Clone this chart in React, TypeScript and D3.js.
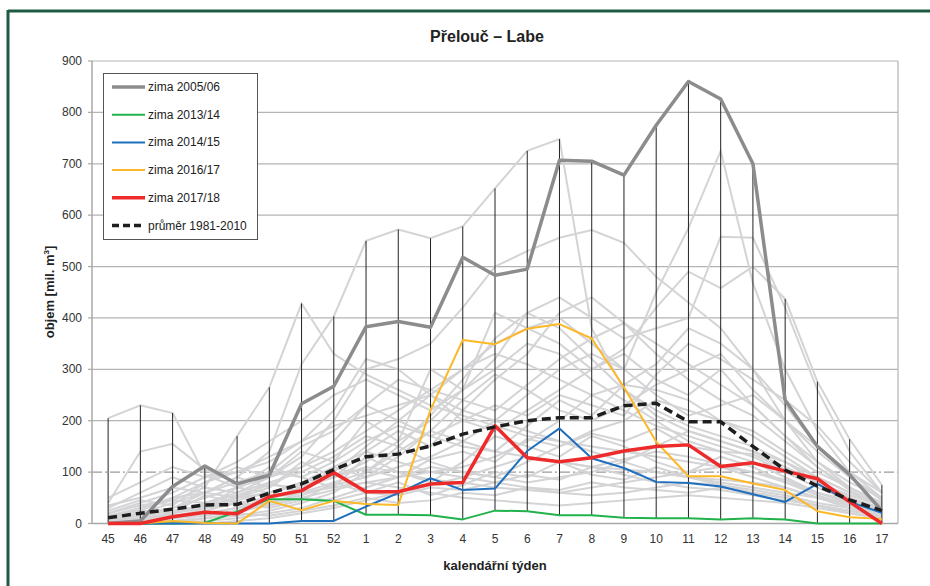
import React from 'react';
import * as d3 from 'd3';

const weeks = ['45','46','47','48','49','50','51','52','1','2','3','4','5','6','7','8','9','10','11','12','13','14','15','16','17'];
const yTicks = [0, 100, 200, 300, 400, 500, 600, 700, 800, 900];

// other winters (light grey background lines)
const grey01 = [205, 230, 215, 95, 70, 60, 75, 90, 110, 100, 85, 80, 70, 65, 60, 55, 60, 70, 80, 75, 60, 50, 35, 25, 15];
const grey02 = [40, 140, 155, 105, 80, 100, 150, 180, 230, 200, 170, 150, 140, 130, 120, 110, 105, 100, 90, 85, 80, 70, 50, 35, 20];
const grey03 = [15, 30, 45, 70, 170, 265, 428, 330, 290, 260, 230, 210, 190, 170, 160, 150, 140, 130, 120, 110, 100, 80, 60, 45, 30];
const grey04 = [5, 20, 40, 60, 90, 140, 310, 403, 550, 572, 555, 578, 652, 725, 748, 380, 260, 210, 180, 160, 140, 120, 90, 60, 40];
const grey05 = [0, 10, 20, 40, 60, 90, 130, 200, 300, 320, 350, 420, 500, 530, 556, 571, 546, 480, 430, 380, 300, 200, 120, 80, 50];
const grey06 = [0, 5, 10, 30, 50, 60, 80, 100, 150, 200, 250, 300, 350, 380, 400, 350, 300, 450, 575, 725, 468, 300, 180, 100, 50];
const grey07 = [10, 25, 50, 80, 100, 120, 160, 220, 320, 300, 250, 200, 180, 220, 260, 300, 340, 420, 490, 458, 500, 437, 276, 164, 75];
const grey08 = [0, 0, 10, 20, 30, 50, 70, 90, 120, 160, 200, 260, 320, 410, 440, 400, 360, 380, 400, 558, 556, 420, 260, 140, 60];
const grey09 = [20, 40, 60, 90, 120, 160, 200, 250, 280, 250, 220, 260, 300, 350, 330, 280, 240, 200, 160, 140, 120, 90, 60, 40, 25];
const grey10 = [0, 0, 5, 10, 20, 40, 60, 80, 100, 140, 180, 240, 290, 260, 220, 200, 230, 270, 300, 330, 260, 200, 150, 100, 60];
const grey11 = [30, 60, 90, 70, 60, 80, 100, 130, 170, 150, 120, 100, 90, 120, 150, 180, 200, 240, 220, 200, 180, 140, 100, 70, 40];
const grey12 = [0, 10, 20, 30, 40, 50, 60, 70, 80, 90, 100, 110, 130, 160, 200, 250, 270, 260, 240, 200, 170, 130, 90, 60, 35];
const grey13 = [5, 15, 25, 35, 45, 60, 80, 110, 140, 120, 100, 90, 80, 70, 60, 70, 80, 90, 100, 110, 90, 70, 50, 30, 20];
const grey14 = [0, 0, 0, 5, 10, 20, 30, 50, 70, 90, 110, 100, 90, 80, 90, 100, 120, 150, 180, 160, 140, 110, 80, 50, 30];
const grey15 = [10, 20, 30, 50, 70, 90, 110, 140, 180, 220, 260, 300, 330, 310, 280, 250, 220, 190, 170, 150, 130, 100, 70, 45, 25];
const grey16 = [0, 5, 10, 15, 25, 35, 50, 65, 80, 70, 60, 50, 45, 40, 35, 40, 45, 50, 55, 50, 45, 40, 30, 20, 10];
const grey17 = [50, 80, 110, 90, 100, 130, 160, 190, 210, 230, 250, 220, 200, 180, 160, 140, 120, 100, 90, 80, 70, 60, 50, 40, 30];
const grey18 = [0, 0, 5, 10, 15, 25, 40, 60, 100, 150, 210, 280, 360, 410, 380, 320, 260, 220, 190, 170, 150, 120, 80, 50, 25];
const grey19 = [5, 10, 15, 20, 30, 40, 55, 75, 90, 110, 130, 160, 200, 250, 300, 330, 300, 250, 210, 230, 250, 200, 140, 90, 50];
const grey20 = [20, 35, 45, 40, 55, 75, 70, 95, 105, 90, 125, 140, 120, 165, 150, 175, 160, 185, 150, 140, 135, 105, 80, 55, 35];
const grey21 = [0, 0, 0, 0, 5, 10, 20, 30, 45, 60, 75, 90, 110, 130, 120, 110, 95, 80, 70, 65, 55, 45, 35, 25, 15];
const grey22 = [10, 30, 50, 60, 90, 70, 110, 160, 230, 280, 260, 240, 220, 270, 320, 360, 390, 350, 310, 270, 230, 170, 120, 70, 40];
const grey23 = [0, 5, 15, 25, 40, 35, 50, 45, 60, 55, 70, 65, 80, 95, 85, 110, 125, 140, 130, 115, 100, 85, 60, 40, 20];
const grey24 = [35, 50, 70, 60, 80, 100, 90, 120, 160, 190, 170, 200, 230, 210, 250, 230, 210, 290, 350, 320, 280, 240, 190, 120, 60];
const grey25 = [0, 10, 30, 60, 50, 70, 120, 90, 140, 180, 150, 220, 280, 330, 410, 440, 390, 330, 280, 240, 210, 160, 110, 70, 40];
const grey26 = [15, 25, 20, 35, 50, 80, 60, 110, 90, 130, 180, 160, 140, 190, 240, 210, 270, 310, 380, 350, 300, 230, 150, 90, 45];
const grey27 = [0, 0, 10, 30, 70, 110, 90, 70, 130, 100, 80, 120, 170, 150, 130, 170, 150, 120, 100, 130, 110, 80, 55, 35, 20];
const grey28 = [5, 5, 20, 55, 40, 30, 45, 80, 60, 80, 55, 75, 100, 90, 120, 95, 85, 110, 90, 75, 65, 55, 40, 30, 15];
const grey29 = [25, 45, 35, 80, 110, 90, 140, 120, 200, 160, 300, 260, 410, 380, 350, 300, 330, 280, 250, 300, 230, 170, 110, 65, 35];
const grey30 = [0, 0, 0, 10, 20, 15, 25, 35, 50, 40, 45, 60, 55, 70, 65, 80, 70, 65, 60, 70, 60, 50, 35, 20, 10];
const greySeries = [grey01, grey02, grey03, grey04, grey05, grey06, grey07, grey08, grey09, grey10, grey11, grey12,
  grey13, grey14, grey15, grey16, grey17, grey18, grey19, grey20, grey21, grey22, grey23, grey24,
  grey25, grey26, grey27, grey28, grey29, grey30];

// highlighted winters
const zima0506 = [0, 5, 72, 112, 77, 94, 233, 267, 383, 393, 382, 518, 483, 495, 707, 705, 678, 775, 860, 826, 700, 240, 150, 95, 25];
const zima1314 = [0, 0, 0, 1, 23, 47, 47, 44, 17, 17, 16, 8, 25, 24, 16, 16, 11, 10, 10, 8, 10, 8, 0, 0, 0];
const zima1415 = [0, 0, 0, 0, 0, 0, 5, 5, 33, 59, 88, 65, 68, 141, 185, 127, 108, 81, 79, 72, 57, 42, 77, 42, 21];
const zima1617 = [0, 0, 5, 1, 0, 44, 26, 44, 38, 36, 221, 357, 349, 379, 388, 360, 265, 159, 92, 92, 78, 65, 24, 12, 9];
const zima1718 = [0, 0, 13, 22, 19, 52, 64, 99, 62, 62, 77, 80, 190, 128, 120, 128, 141, 150, 153, 111, 118, 102, 87, 42, 0];
const prumer = [11, 20, 28, 36, 37, 59, 77, 105, 130, 135, 151, 174, 188, 200, 206, 206, 229, 234, 198, 198, 150, 104, 73, 46, 25];

const legendLabels = ['zima 2005/06', 'zima 2013/14', 'zima 2014/15', 'zima 2016/17', 'zima 2017/18', 'průměr 1981-2010'];

const font = '"Liberation Sans", Arial, sans-serif';

export default function App() {
  const left = 92, right = 898, top = 61, bottom = 523.5;
  const x = d3.scaleBand().domain(weeks).range([left, right]);
  const y = d3.scaleLinear().domain([0, 900]).range([bottom, top]);
  const cx = (w: string) => (x(w) as number) + x.bandwidth() / 2;

  const line = d3.line<number>().x((_, i) => cx(weeks[i])).y((d) => y(d));

  const allSeries = [...greySeries, zima0506, zima1314, zima1415, zima1617, zima1718];
  const hiLo = weeks.map((w, i) => ({
    w,
    lo: d3.min(allSeries, (s) => s[i]) as number,
    hi: d3.max(allSeries, (s) => s[i]) as number,
  }));

  const styled = [
    { data: zima0506, color: '#8c8c8e', width: 3.5, dash: undefined },
    { data: zima1314, color: '#22b24c', width: 2, dash: undefined },
    { data: zima1415, color: '#1f6fbd', width: 2, dash: undefined },
    { data: zima1617, color: '#fdb827', width: 2, dash: undefined },
    { data: zima1718, color: '#ee2b2b', width: 3.5, dash: undefined },
    { data: prumer, color: '#1e1e1e', width: 3.5, dash: '9,5' },
  ];

  return (
    <svg width={930} height={586} style={{ position: 'absolute', left: 0, top: 0, background: '#fff' }}>
      <rect x={0} y={0} width={930} height={586} fill="#fff" />
      {/* frame */}
      <line x1={8} y1={11} x2={930} y2={11} stroke="#1f5a42" strokeWidth={3} />
      <line x1={8} y1={10} x2={8} y2={586} stroke="#1f5a42" strokeWidth={3} />

      <text x={487} y={42} textAnchor="middle" fontFamily={font} fontWeight="bold" fontSize={16} fill="#222">Přelouč – Labe</text>

      {/* grid */}
      {yTicks.filter((t) => t > 0).map((t) => (
        <line key={t} x1={left} x2={right} y1={y(t)} y2={y(t)}
          stroke={t === 100 ? '#9a9a9a' : '#b4b4b4'} strokeWidth={1.2}
          strokeDasharray={t === 100 ? '10,3,2,3' : undefined} />
      ))}
      <line x1={right} x2={right} y1={top} y2={bottom} stroke="#b4b4b4" strokeWidth={1.2} />

      {/* other winters */}
      <g fill="none" stroke="#d4d4d6" strokeWidth={2}>
        {greySeries.map((s, i) => <path key={i} d={line(s) || ''} />)}
      </g>

      {/* high-low lines */}
      {hiLo.map((d) => (
        <line key={d.w} x1={cx(d.w)} x2={cx(d.w)} y1={y(d.lo)} y2={y(d.hi)} stroke="#222" strokeWidth={1} />
      ))}

      {/* axes */}
      <line x1={left} x2={right} y1={bottom} y2={bottom} stroke="#a8a8a8" strokeWidth={1.5} />
      <line x1={left} x2={left} y1={top} y2={bottom} stroke="#a8a8a8" strokeWidth={1.5} />
      {yTicks.map((t) => (
        <g key={t}>
          <line x1={left - 4} x2={left} y1={y(t)} y2={y(t)} stroke="#a8a8a8" strokeWidth={1.2} />
          <text x={82} y={y(t) + 4} textAnchor="end" fontFamily={font} fontSize={12} fill="#333">{t}</text>
        </g>
      ))}
      {weeks.map((w) => (
        <text key={w} x={cx(w)} y={543} textAnchor="middle" fontFamily={font} fontSize={12} fill="#333">{w}</text>
      ))}

      {/* highlighted winters */}
      <g fill="none" strokeLinejoin="round">
        {styled.map((s, i) => (
          <path key={i} d={line(s.data) || ''} stroke={s.color} strokeWidth={s.width} strokeDasharray={s.dash} />
        ))}
      </g>

      <text transform="translate(54,292) rotate(-90)" textAnchor="middle" fontFamily={font} fontWeight="bold" fontSize={13} fill="#222">
        objem [mil. m<tspan dy={-5} fontSize={8}>3</tspan><tspan dy={5}>]</tspan>
      </text>
      <text x={495} y={570} textAnchor="middle" fontFamily={font} fontWeight="bold" fontSize={13} fill="#222">kalendářní týden</text>

      {/* legend */}
      <rect x={103.5} y={73.5} width={154} height={166} fill="#fff" stroke="#555" strokeWidth={1} />
      {styled.map((s, i) => {
        const ly = 87 + i * 27.7;
        return (
          <g key={i}>
            <line x1={112} x2={145} y1={ly} y2={ly} stroke={s.color} strokeWidth={s.width}
              strokeDasharray={s.dash ? '7,4' : undefined} />
            <text x={148} y={ly + 4} fontFamily={font} fontSize={12} fill="#222">{legendLabels[i]}</text>
          </g>
        );
      })}
    </svg>
  );
}
